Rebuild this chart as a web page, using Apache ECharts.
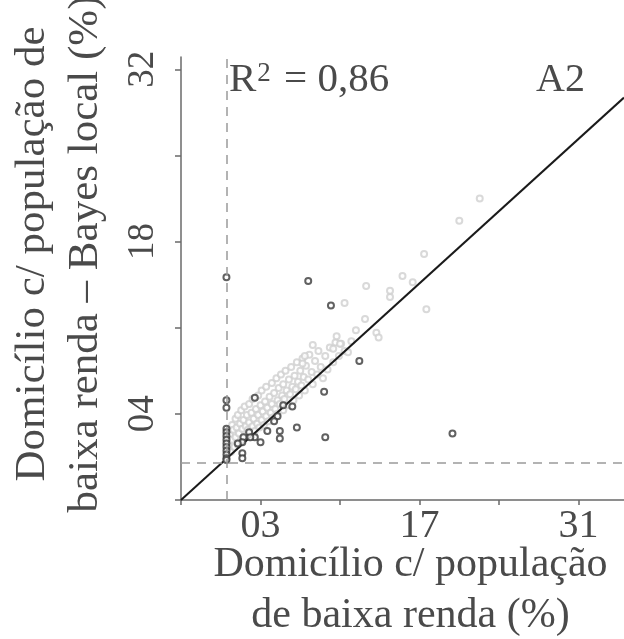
<!DOCTYPE html>
<html>
<head>
<meta charset="utf-8">
<script src="https://cdn.jsdelivr.net/npm/echarts@6/dist/echarts.min.js"></script>
<style>html,body{margin:0;padding:0;background:#fff}#c{width:624px;height:639px}</style>
</head>
<body>
<div id="c"></div>
<script>
// ---- data ----
var xTicks = [-4, 3, 10, 17, 24, 31];
var xTickLabels = [3, 17, 31];
var yTicks = [-3, 4, 11, 18, 25, 32];
var yTickLabels = [4, 18, 32];
var xTitle = 'Domicílio c/ população\nde baixa renda (%)';
var yTitle = 'Domicílio c/ população de\nbaixa renda – Bayes local (%)';
var r2Text = '0,86';
var panelText = 'A2';
var fitLine = [[-4, -3], [35, 29.7]];
var refX = 0;
var refY = 0;
var grayPoints = [
 [0.2,1.4],[0.3,2.3],[0.4,0.9],[0.5,3.1],[0.5,1.9],[0.6,2.7],[0.7,1.3],[0.8,3.6],[0.8,2.1],[0.9,2.9],
 [1.0,1.5],[1.0,3.9],[1.1,2.4],[1.2,3.2],[1.2,1.7],[1.3,4.3],[1.4,2.8],[1.5,3.5],[1.5,2.0],[1.6,4.6],
 [1.7,3.0],[1.8,2.3],[1.8,3.9],[1.9,2.7],[2.0,4.8],[2.0,3.3],[2.1,2.1],[2.2,4.1],[2.3,3.0],[2.3,5.2],
 [2.4,3.6],[2.5,2.6],[2.6,4.4],[2.7,3.2],[2.8,5.5],[2.8,3.9],[2.9,2.9],[3.0,4.7],[3.1,3.5],[3.1,5.9],
 [3.2,4.2],[3.3,3.1],[3.4,5.0],[3.5,3.8],[3.5,6.2],[3.6,4.5],[3.7,3.4],[3.8,5.4],[3.9,4.1],[4.0,6.5],
 [4.0,4.8],[4.1,3.7],[4.2,5.7],[4.3,4.4],[4.4,6.9],[4.5,5.1],[4.5,4.0],[4.6,6.1],[4.7,4.8],[4.8,7.2],
 [4.9,5.5],[5.0,4.3],[5.0,6.4],[5.1,5.2],[5.2,7.5],[5.3,5.9],[5.4,4.7],[5.5,6.8],[5.6,5.6],[5.7,7.8],
 [5.8,6.2],[5.9,5.1],[6.0,7.1],[6.1,6.0],[6.2,8.2],[6.3,6.6],[6.4,5.5],[6.5,7.5],[6.6,6.3],[6.7,8.5],
 [6.8,7.0],[6.9,5.9],[7.0,7.9],[7.2,6.8],[7.3,8.8],[7.5,7.4],[7.6,6.4],[7.8,8.3],[8.0,7.2],[8.1,9.1],
 [8.3,7.8],[8.5,6.9],[8.7,8.7],[8.9,7.6],[9.1,9.4],[9.4,8.2],[9.6,9.8],[9.9,8.7],[10.1,9.7],[10.4,9.1],
 [10.7,9.0],[11.0,9.9],
 [7.6,9.6],[6.9,8.7],[6.7,8.1],[9.7,10.3],[10.0,9.7],[9.4,9.3],[10.4,13.0],[11.4,10.8],[12.2,11.7],
 [13.2,10.6],[13.4,10.2],[12.3,14.4],[14.4,13.5],[14.4,14.0],[15.5,15.2],[16.4,14.7],[17.6,12.5],
 [17.4,17.0],[20.5,19.7],[22.3,21.5]
];
var darkPoints = [
 [0,15.1],[7.2,14.8],[9.2,12.8],[11.7,8.3],[8.6,5.8],[2.5,5.3],[0,5.1],[0,4.5],[5.8,4.6],[5.0,4.7],
 [4.5,3.8],[4.2,3.4],[6.2,2.9],[4.7,2.6],[3.6,2.6],[4.7,2.0],[8.7,2.1],[19.9,2.4],[2.0,2.5],[2.5,2.1],
 [3.0,1.7],[1.5,2.1],[1.4,1.7],[1.0,1.6],[1.4,0.8],[1.4,0.4],[2.1,2.1],
 [0,2.8],[0,2.5],[0,2.2],[0,1.9],[0,1.6],[0,1.3],[0,1.0],[0,0.7],[0,0.4],[0,0.25]
];

var FONT = 'Liberation Serif';
var TXT = '#4a4a4a';
var AX = '#6a6a6a';
function pad2(v){ return (v < 10 && v >= 0 ? '0' : '') + v; }

var chart = echarts.init(document.getElementById('c'), null, {renderer: 'canvas'});
chart.setOption({
  animation: false,
  backgroundColor: '#fff',
  grid: {left: 181, right: 0, top: 57, bottom: 139, containLabel: false, outerBoundsMode: 'none'},
  xAxis: {
    type: 'value', min: -4, max: 35,
    splitLine: {show: false},
    axisLine: {show: true, onZero: false, lineStyle: {color: AX, width: 1.5}},
    axisTick: {show: true, customValues: xTicks, length: 5, lineStyle: {color: AX, width: 1.5}},
    axisLabel: {customValues: xTickLabels, formatter: pad2, fontFamily: FONT, fontSize: 40, color: TXT, margin: 6},
    name: xTitle, nameLocation: 'middle', nameGap: 39, nameMoveOverlap: false,
    nameTextStyle: {fontFamily: FONT, fontSize: 42, color: TXT, lineHeight: 51, padding: [0, 0, 0, 16]}
  },
  yAxis: {
    type: 'value', min: -3, max: 33,
    splitLine: {show: false},
    axisLine: {show: true, onZero: false, lineStyle: {color: AX, width: 1.5}},
    axisTick: {show: true, customValues: yTicks, length: 6, lineStyle: {color: AX, width: 1.5}},
    axisLabel: {customValues: yTickLabels, formatter: pad2, rotate: 90, fontFamily: FONT, fontSize: 37, color: TXT, margin: 19},
    name: yTitle, nameLocation: 'middle', nameGap: 69, nameRotate: 90, nameMoveOverlap: false,
    nameTextStyle: {fontFamily: FONT, fontSize: 43, color: TXT, lineHeight: 53, padding: [0, 0, 0, 49]}
  },
  graphic: [
    {type: 'text', left: 229, top: 60, style: {
      text: 'R{sup|2} = ' + r2Text, fontFamily: FONT, fontSize: 41, fill: TXT,
      rich: {sup: {fontFamily: FONT, fontSize: 27, verticalAlign: 'top', padding: [0, 3, 12, 1], fill: TXT}}
    }},
    {type: 'text', left: 536, top: 60, style: {text: panelText, fontFamily: FONT, fontSize: 40, fill: TXT}}
  ],
  series: [
    {
      type: 'scatter', name: 'all', data: grayPoints, symbol: 'emptyCircle', symbolSize: 6,
      itemStyle: {color: '#cfcfcf', borderColor: '#cfcfcf', borderWidth: 1.2}, z: 2
    },
    {
      type: 'line', name: 'fit', data: fitLine, showSymbol: false, symbol: 'none',
      lineStyle: {color: '#1a1a1a', width: 2}, z: 3, clip: true,
      markLine: {
        silent: true, symbol: 'none', label: {show: false},
        lineStyle: {color: '#9a9a9a', type: [9, 7], width: 1.5},
        data: [{xAxis: refX}, {yAxis: refY}]
      }
    },
    {
      type: 'scatter', name: 'outliers', data: darkPoints, symbol: 'emptyCircle', symbolSize: 6,
      itemStyle: {color: '#3a3a3a', borderColor: '#3a3a3a', borderWidth: 1.4}, z: 4
    }
  ]
});
</script>
</body>
</html>
